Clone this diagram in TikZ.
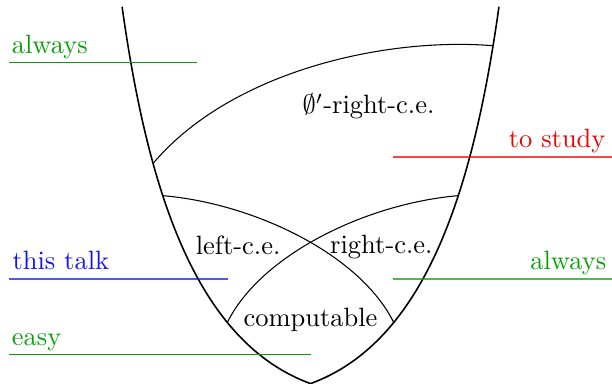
\documentclass[tikz,border=0pt]{standalone}
\usepackage{xcolor}
\usepackage{amsmath}
\usepackage{amssymb}
\usepackage{tikz}
\definecolor{easygreen}{RGB}{10,160,10}
\definecolor{studyred}{RGB}{240,0,0}
\definecolor{talkblue}{RGB}{20,20,240}

\begin{document}
\begin{tikzpicture}[scale=1,
    tag/.style={inner sep=0pt},
    thinrule/.style={draw=easygreen,line width=0.5pt},
    thickrule/.style={line width=0.8pt,draw opacity=0.72}]
  \useasboundingbox (-4.12,0) rectangle (4,5.09);
  \draw[semithick] (-2.5,5) .. controls (-2.15,2.5) and (-1.5,0.55) .. (0,0)
    .. controls (1.5,0.55) and (2.15,2.5) .. (2.5,5);
  \path (0,0) .. controls (-1.5,0.55) and (-2.15,2.5) ..
    coordinate[pos=0.29] (l1) coordinate[pos=0.63] (l2) coordinate[pos=0.70] (l3) (-2.5,5);
  \path (0,0) .. controls (1.5,0.55) and (2.15,2.5) ..
    coordinate[pos=0.29] (r1) coordinate[pos=0.63] (r2) coordinate[pos=0.93] (r3) (2.5,5);
  \draw (l3) .. controls (-1.05,4.15) and (1,4.6) .. (r3);
  \draw (l2) .. controls (-0.74,2.39) and (0.66,1.71) .. (r1);
  \draw (r2) .. controls (0.74,2.39) and (-0.66,1.71) .. (l1);
  \node[anchor=base] (jumprce) at (0.77,3.58) {$\emptyset'$-right-c.e.};
  \node[anchor=base] (lce) at (-0.96,1.71) {left-c.e.};
  \node[anchor=base] (rce) at (0.94,1.72) {right-c.e.};
  \node[anchor=base] (comp) at (0,0.756) {computable};
  \node[tag,anchor=base west,text=easygreen] (alwaysL) at (-3.97,4.38) {always};
  \draw[thinrule] (-4,4.26) -- (-1.5,4.26);
  \node[tag,anchor=base east,text=studyred] (study) at (3.92,3.13) {to study};
  \draw[thickrule,draw=studyred] (1.1,3.01) -- (4,3.01);
  \node[tag,anchor=base west,text=talkblue] (talk) at (-3.96,1.51) {this talk};
  \draw[thickrule,draw=talkblue] (-4,1.39) -- (-1.1,1.39);
  \node[tag,anchor=base east,text=easygreen] (alwaysR) at (3.93,1.51) {always};
  \draw[thickrule,draw=easygreen] (1.1,1.39) -- (4,1.39);
  \node[tag,anchor=base west,text=easygreen] (easy) at (-3.97,0.51) {easy};
  \draw[thinrule] (-4,0.39) -- (0,0.39);
\end{tikzpicture}
\end{document}
